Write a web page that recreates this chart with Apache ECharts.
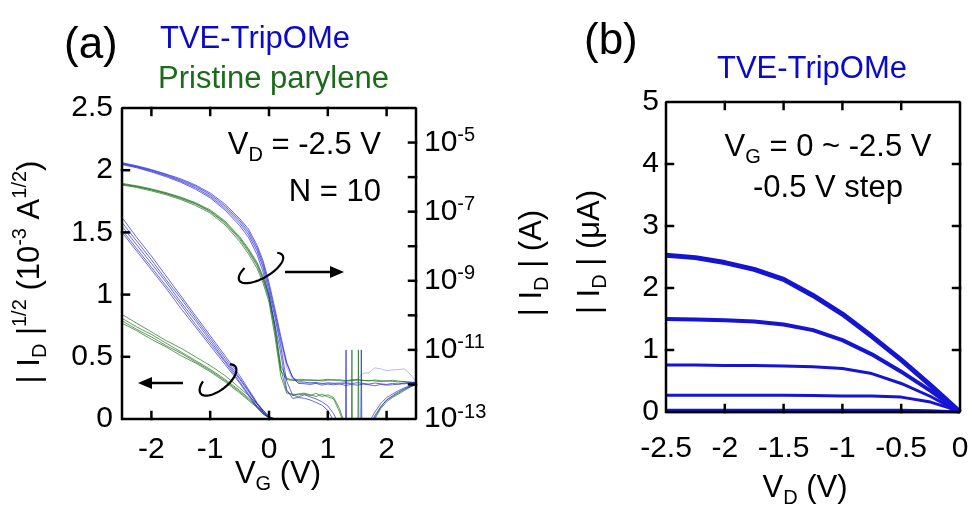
<!DOCTYPE html>
<html><head><meta charset="utf-8">
<script src="https://cdn.jsdelivr.net/npm/echarts@6.0.0/dist/echarts.min.js"></script>
<style>html,body{margin:0;padding:0;background:#fff}#c{width:973px;height:511px}</style>
</head><body><div id="c"></div>
<script>
// ---------- DATA (panel a: transfer curves, VD = -2.5 V) ----------
const vgTicks = [-2, -1, 0, 1, 2];
const sqTicks = [0.5, 1, 1.5, 2];
const logTickExp = [-12, -11, -10, -9, -8, -7, -6, -5];
const vdTicks = [-2, -1.5, -1, -0.5];
const idTicks = [1, 2, 3, 4];
const vgOn  = [-2.5,-2.25,-2,-1.75,-1.5,-1.25,-1,-0.75,-0.5,-0.35,-0.2,-0.1,0,0.1,0.2,0.3,0.4,0.5];
const vgOff = [0.6,0.7,0.8,0.9,1.0,1.1,1.2,1.3,1.4,1.5,1.6,1.7,1.8,1.9,2.0,2.1,2.2,2.3,2.4,2.5];
const blueLogOn1 = [-5.60,-5.69,-5.80,-5.93,-6.08,-6.26,-6.50,-6.83,-7.25,-7.57,-8.05,-8.50,-9.15,-9.90,-10.70,-11.40,-11.78,-11.92];
const blueLogOn2 = [-5.62,-5.71,-5.83,-5.96,-6.12,-6.31,-6.56,-6.90,-7.33,-7.66,-8.15,-8.62,-9.30,-10.05,-10.90,-11.90,-12.30,-12.36];
const blueLogOn3 = [-5.64,-5.73,-5.85,-5.99,-6.15,-6.35,-6.60,-6.95,-7.40,-7.74,-8.25,-8.75,-9.45,-10.25,-11.10,-12.15,-12.40,-12.38];
const blueLogOn4 = [-5.58,-5.67,-5.78,-5.91,-6.05,-6.23,-6.46,-6.78,-7.20,-7.50,-7.98,-8.42,-9.05,-9.80,-10.60,-11.35,-11.80,-11.97];
const blueLogOn5 = [-5.61,-5.70,-5.81,-5.95,-6.10,-6.28,-6.53,-6.86,-7.29,-7.61,-8.10,-8.56,-9.22,-9.98,-10.80,-11.50,-11.85,-11.95];
const blueLogOff1 = [-11.93,-11.96,-11.94,-11.98,-11.95,-11.97,-11.99,-11.96,-11.98,-11.95,-11.97,-11.99,-11.96,-11.98,-12.00,-11.97,-11.99,-11.96,-11.95,-11.94];
const blueLogOff2 = [-12.30,-12.36,-12.42,-12.50,-12.62,-12.85,-13.20,-13.50,-13.60,-13.50,-13.40,-13.10,-12.80,-12.55,-12.38,-12.28,-12.18,-12.10,-12.04,-11.99];
const blueLogOff3 = [-12.40,-12.45,-12.52,-12.60,-12.75,-13.05,-13.40,-13.60,-13.50,-13.60,-13.50,-13.30,-12.90,-12.65,-12.45,-12.33,-12.22,-12.13,-12.06,-12.01];
const blueLogOff4 = [-11.98,-12.00,-11.97,-12.02,-11.99,-12.01,-11.98,-12.03,-12.00,-12.02,-11.99,-12.01,-12.04,-12.00,-12.02,-12.01,-11.99,-11.98,-11.97,-11.95];
const blueLogOff5 = [-11.96,-11.95,-11.97,-11.96,-11.98,-11.96,-11.94,-11.95,-11.92,-11.85,-11.68,-11.66,-11.52,-11.55,-11.60,-11.58,-11.57,-11.55,-11.70,-11.92];
const greenLogOn1 = [-6.18,-6.25,-6.34,-6.45,-6.58,-6.74,-6.95,-7.27,-7.72,-8.07,-8.48,-8.88,-9.40,-10.30,-11.45,-11.82,-11.87,-11.88];
const greenLogOn2 = [-6.21,-6.28,-6.37,-6.48,-6.62,-6.78,-7.00,-7.33,-7.80,-8.15,-8.57,-8.98,-9.52,-10.45,-11.60,-11.86,-11.88,-11.86];
const greenLogOn3 = [-6.23,-6.30,-6.40,-6.51,-6.65,-6.82,-7.04,-7.38,-7.86,-8.22,-8.65,-9.07,-9.62,-10.60,-11.75,-12.25,-12.28,-12.30];
const greenLogOn4 = [-6.20,-6.27,-6.36,-6.47,-6.60,-6.76,-6.98,-7.30,-7.76,-8.11,-8.52,-8.93,-9.46,-10.38,-11.55,-12.20,-12.32,-12.27];
const greenLogOff1 = [-11.88,-11.86,-11.89,-11.87,-11.85,-11.88,-11.86,-11.89,-11.87,-11.86,-11.88,-11.90,-11.87,-11.89,-11.91,-11.88,-11.90,-11.92,-11.93,-11.94];
const greenLogOff2 = [-11.86,-11.89,-11.87,-11.90,-11.88,-11.86,-11.89,-11.91,-11.88,-11.87,-11.89,-11.88,-11.90,-11.92,-11.89,-11.91,-11.93,-11.92,-11.94,-11.95];
const greenLogOff3 = [-12.28,-12.32,-12.26,-12.35,-12.30,-12.38,-12.70,-13.20,-13.50,-13.50,-13.40,-13.20,-12.95,-12.65,-12.45,-12.35,-12.25,-12.15,-12.06,-11.99];
const greenLogOff4 = [-12.25,-12.30,-12.35,-12.28,-12.36,-12.42,-12.80,-13.30,-13.50,-13.60,-13.50,-13.30,-13.00,-12.70,-12.50,-12.38,-12.28,-12.18,-12.08,-12.00];
// noise spikes [VG, log10 ID]
const spikeBlue1  = [[1.30,-13.5],[1.31,-11.0],[1.32,-13.5]];
const spikeBlue2  = [[1.56,-13.5],[1.57,-11.0],[1.58,-13.5]];
const spikeGreen1 = [[1.40,-13.5],[1.41,-11.0],[1.42,-13.5]];
const spikeGreen2 = [[1.51,-13.5],[1.52,-11.0],[1.53,-13.5]];
// sqrt|ID| (10^-3 A^1/2), left axis
const vgSq = [-2.5,-2.25,-2,-1.75,-1.5,-1.25,-1,-0.75,-0.5,-0.35,-0.2,-0.1,0,0.1];
const blueSq1 = [1.62,1.46,1.31,1.15,0.99,0.83,0.67,0.51,0.35,0.24,0.13,0.07,0.02,0];
const blueSq2 = [1.58,1.43,1.28,1.12,0.97,0.81,0.65,0.49,0.33,0.23,0.12,0.06,0.01,0];
const blueSq3 = [1.55,1.40,1.25,1.10,0.94,0.79,0.63,0.47,0.32,0.22,0.12,0.06,0.01,0];
const blueSq4 = [1.52,1.37,1.22,1.07,0.92,0.76,0.61,0.46,0.30,0.20,0.10,0.05,0.01,0];
const blueSq5 = [1.50,1.35,1.20,1.05,0.89,0.74,0.59,0.44,0.29,0.19,0.09,0.04,0.01,0];
const greenSq1 = [0.84,0.77,0.70,0.63,0.57,0.50,0.43,0.35,0.25,0.19,0.12,0.07,0.02,0];
const greenSq2 = [0.81,0.74,0.68,0.61,0.54,0.47,0.40,0.32,0.23,0.17,0.10,0.05,0.01,0];
const greenSq3 = [0.79,0.72,0.66,0.59,0.53,0.46,0.39,0.31,0.22,0.16,0.10,0.05,0.01,0];
const greenSq4 = [0.77,0.71,0.64,0.58,0.51,0.45,0.38,0.30,0.21,0.15,0.09,0.04,0.01,0];

// ---------- DATA (panel b: output curves, |ID| in uA) ----------
const vd = [-2.5,-2.25,-2,-1.75,-1.5,-1.25,-1,-0.75,-0.5,-0.25,-0.1,0];
const idVg25 = [2.53,2.49,2.41,2.30,2.14,1.88,1.58,1.22,0.84,0.43,0.17,0];
const idVg20 = [1.50,1.49,1.48,1.46,1.41,1.32,1.16,0.93,0.65,0.34,0.14,0];
const idVg15 = [0.76,0.76,0.75,0.75,0.74,0.73,0.70,0.62,0.46,0.25,0.10,0];
const idVg10 = [0.27,0.27,0.27,0.27,0.27,0.265,0.26,0.26,0.24,0.16,0.07,0];
const idVg05 = [0.03,0.03,0.03,0.03,0.03,0.03,0.03,0.03,0.03,0.02,0.01,0];
const idVg00 = [0,0,0,0,0,0,0,0,0,0,0,0];

// ---------- BUILD ----------
const F = '"Liberation Sans", Arial, sans-serif';
const BLUE = 'rgba(25,25,215,0.65)';
const GREEN = 'rgba(30,115,30,0.7)';
const pairs = (xs, ys) => xs.map((x, i) => [x, ys[i]]);
const logPairs = (xs, es) => xs.map((x, i) => [x, Math.pow(10, es[i])]);
const logDev = (on, off) => logPairs(vgOn.concat(vgOff), on.concat(off));
const logSpike = s => s.map(p => [p[0], Math.pow(10, p[1])]);

function ln(data, color, width, xi, yi) {
  return { type: 'line', data, xAxisIndex: xi, yAxisIndex: yi, symbol: 'none', showSymbol: false,
    lineStyle: { color, width }, clip: true, silent: true, z: 3 };
}
const series = [];
[[greenLogOn1, greenLogOff1],[greenLogOn2, greenLogOff2],[greenLogOn3, greenLogOff3],[greenLogOn4, greenLogOff4]]
  .forEach(d => series.push(ln(logDev(d[0], d[1]), GREEN, 1, 0, 1)));
[[blueLogOn1, blueLogOff1],[blueLogOn2, blueLogOff2],[blueLogOn3, blueLogOff3],[blueLogOn4, blueLogOff4]]
  .forEach(d => series.push(ln(logDev(d[0], d[1]), BLUE, 1, 0, 1)));
series.push(ln(logDev(blueLogOn5, blueLogOff5), 'rgba(25,25,215,0.3)', 1, 0, 1));
[spikeBlue1, spikeBlue2].forEach(s => series.push(ln(logSpike(s), BLUE, 1, 0, 1)));
[spikeGreen1, spikeGreen2].forEach(s => series.push(ln(logSpike(s), GREEN, 1, 0, 1)));
[greenSq1, greenSq2, greenSq3, greenSq4].forEach(s => series.push(ln(pairs(vgSq, s), GREEN, 1, 0, 0)));
[blueSq1, blueSq2, blueSq3, blueSq4, blueSq5].forEach(s => series.push(ln(pairs(vgSq, s), BLUE, 1, 0, 0)));
const BB = '#1414d2';
[[idVg25, 5],[idVg20, 4],[idVg15, 3],[idVg10, 3],[idVg05, 3],[idVg00, 3]]
  .forEach(d => series.push(ln(pairs(vd, d[0]), BB, d[1], 1, 2)));

// ---------- FRAME + TICKS drawn through the axes (data space) ----------
const GRID_A = { left: 122, top: 108, width: 294, height: 311 };
const GRID_B = { left: 666, top: 102, width: 294, height: 310 };
const TLPX = 7;
function fr(pts, xi, yi) {
  return { type: 'line', data: pts, xAxisIndex: xi, yAxisIndex: yi, symbol: 'none', showSymbol: false,
    lineStyle: { color: '#000', width: 2.5, cap: 'square' }, clip: false, silent: true, z: 6 };
}
// panel a
const dxA = TLPX / GRID_A.width * 5, dyA = TLPX / GRID_A.height * 2.5;
series.push(fr([[-2.5, 0], [2.5, 0], [2.5, 2.5], [-2.5, 2.5], [-2.5, 0]], 0, 0));
vgTicks.forEach(v => { series.push(fr([[v, 0], [v, dyA]], 0, 0)); series.push(fr([[v, 2.5], [v, 2.5 - dyA]], 0, 0)); });
sqTicks.forEach(v => series.push(fr([[-2.5, v], [-2.5 + dxA, v]], 0, 0)));
logTickExp.forEach(e => series.push(fr([[2.5, Math.pow(10, e)], [2.5 - dxA, Math.pow(10, e)]], 0, 1)));
// panel b
const dxB = TLPX / GRID_B.width * 2.5, dyB = TLPX / GRID_B.height * 5;
series.push(fr([[-2.5, 0], [0, 0], [0, 5], [-2.5, 5], [-2.5, 0]], 1, 2));
vdTicks.forEach(v => { series.push(fr([[v, 0], [v, dyB]], 1, 2)); series.push(fr([[v, 5], [v, 5 - dyB]], 1, 2)); });
idTicks.forEach(v => { series.push(fr([[-2.5, v], [-2.5 + dxB, v]], 1, 2)); series.push(fr([[0, v], [-dxB, v]], 1, 2)); });

const noLine = () => ({ show: false, onZero: false });
const noTick = () => ({ show: false });
const lab = (extra) => Object.assign({ color: '#000', fontSize: 30, fontFamily: F }, extra || {});

const option = {
  animation: false,
  backgroundColor: '#fff',
  grid: [GRID_A, GRID_B],
  xAxis: [
    { gridIndex: 0, type: 'value', min: -2.5, max: 2.5, position: 'bottom', axisLine: noLine(), axisTick: noTick(),
      axisLabel: lab({ customValues: vgTicks, margin: 16 }), splitLine: { show: false } },
    { gridIndex: 1, type: 'value', min: -2.5, max: 0, interval: 0.5, position: 'bottom', axisLine: noLine(), axisTick: noTick(),
      axisLabel: lab({ margin: 22, showMinLabel: true, showMaxLabel: true, interval: 0 }), splitLine: { show: false } }
  ],
  yAxis: [
    { gridIndex: 0, type: 'value', min: 0, max: 2.5, interval: 0.5, position: 'left', axisLine: noLine(), axisTick: noTick(),
      axisLabel: lab({ margin: 9 }), splitLine: { show: false } },
    { gridIndex: 0, type: 'log', logBase: 10, min: 1e-13, max: 1e-4, interval: 1, position: 'right', axisLine: noLine(), axisTick: noTick(),
      axisLabel: lab({ margin: 8,
        formatter: v => { const e = Math.round(Math.log10(v)); return (e % 2 === 0) ? '' : '{b|10}{s|' + e + '}'; },
        rich: { b: { fontSize: 30, fontFamily: F, color: '#000', lineHeight: 34 },
                s: { fontSize: 20, fontFamily: F, color: '#000', lineHeight: 20, verticalAlign: 'top' } } }),
      splitLine: { show: false } },
    { gridIndex: 1, type: 'value', min: 0, max: 5, interval: 1, position: 'left', axisLine: noLine(), axisTick: noTick(),
      axisLabel: lab({ margin: 7 }), splitLine: { show: false } }
  ],
  series
};

const chart = echarts.init(document.getElementById('c'), null, { renderer: 'canvas' });
chart.setOption(option);

// ---------- ANNOTATIONS ----------
const rich = {
  n: { fontSize: 31, fontFamily: F, color: '#000', lineHeight: 40 },
  sub: { fontSize: 20, fontFamily: F, color: '#000', lineHeight: 20, verticalAlign: 'bottom' },
  sup: { fontSize: 20, fontFamily: F, color: '#000', lineHeight: 20, verticalAlign: 'top' }
};
function txt(text, x, y, opts) {
  opts = opts || {};
  return { type: 'text', x, y, rotation: opts.rot || 0, z: 10, silent: true,
    style: { text, rich, x: 0, y: 0, align: opts.align || 'left', verticalAlign: opts.va || 'middle',
             fontSize: opts.size || 31, fontFamily: F, fill: opts.color || '#000' } };
}
function ellipse(cx, cy, a, b, thDeg, t0, t1) {
  const pts = [];
  const th = thDeg * Math.PI / 180;
  const c = Math.cos(th), s = Math.sin(th);
  for (let t = t0; t <= t1 + 1e-6; t += 5) {
    const r = t * Math.PI / 180;
    const ex = a * Math.cos(r), ey = b * Math.sin(r);
    pts.push([cx + ex * c - ey * s, cy + ex * s + ey * c]);
  }
  return { type: 'polyline', z: 10, silent: true, shape: { points: pts }, style: { stroke: '#000', lineWidth: 2.2, fill: null } };
}
const graphics = [
  txt('(a)', 64, 46, { size: 44 }),
  txt('TVE-TripOMe', 160, 39, { size: 31, color: '#0a0ac8' }),
  txt('Pristine parylene', 158, 79, { size: 31, color: '#1b6b1b' }),
  txt('(b)', 584, 42, { size: 44 }),
  txt('TVE-TripOMe', 812, 69, { size: 31, color: '#0a0ac8', align: 'center' }),
  txt('{n|V}{sub|D}{n| = -2.5 V}', 381, 145, { align: 'right' }),
  txt('{n|N = 10}', 381, 192, { align: 'right' }),
  txt('{n|V}{sub|G}{n| = 0 ~ -2.5 V}', 828, 147, { align: 'center' }),
  txt('{n|-0.5 V step}', 828, 188, { align: 'center' }),
  txt('{n|V}{sub|G}{n| (V)}', 278, 474, { align: 'center' }),
  txt('{n|V}{sub|D}{n| (V)}', 805, 488, { align: 'center' }),
  txt('{n|| I}{sub|D}{n| |}{sup|1/2}{n| (10}{sup|-3}{n| A}{sup|1/2}{n|)}', 30, 272, { align: 'center', rot: Math.PI / 2 }),
  txt('{n|| I}{sub|D}{n| | (A)}', 532, 263, { align: 'center', rot: Math.PI / 2 }),
  txt('{n|| I}{sub|D}{n| | (μA)}', 590, 252, { align: 'center', rot: Math.PI / 2 }),
  // arrows
  { type: 'line', z: 10, silent: true, shape: { x1: 285, y1: 272, x2: 332, y2: 272 }, style: { stroke: '#000', lineWidth: 2.5 } },
  { type: 'polygon', z: 10, silent: true, shape: { points: [[330, 266], [344, 272], [330, 278]] }, style: { fill: '#000' } },
  { type: 'line', z: 10, silent: true, shape: { x1: 183, y1: 383, x2: 150, y2: 383 }, style: { stroke: '#000', lineWidth: 2.5 } },
  { type: 'polygon', z: 10, silent: true, shape: { points: [[152, 377], [138, 383], [152, 389]] }, style: { fill: '#000' } },
  // loops around curve bundles (gap on the upper-left back side)
  ellipse(261, 268, 25, 10, -30, -30, 235),
  ellipse(218, 380, 22, 10, -38, -30, 235)
];
chart.setOption({ graphic: { elements: graphics } });
</script></body></html>
